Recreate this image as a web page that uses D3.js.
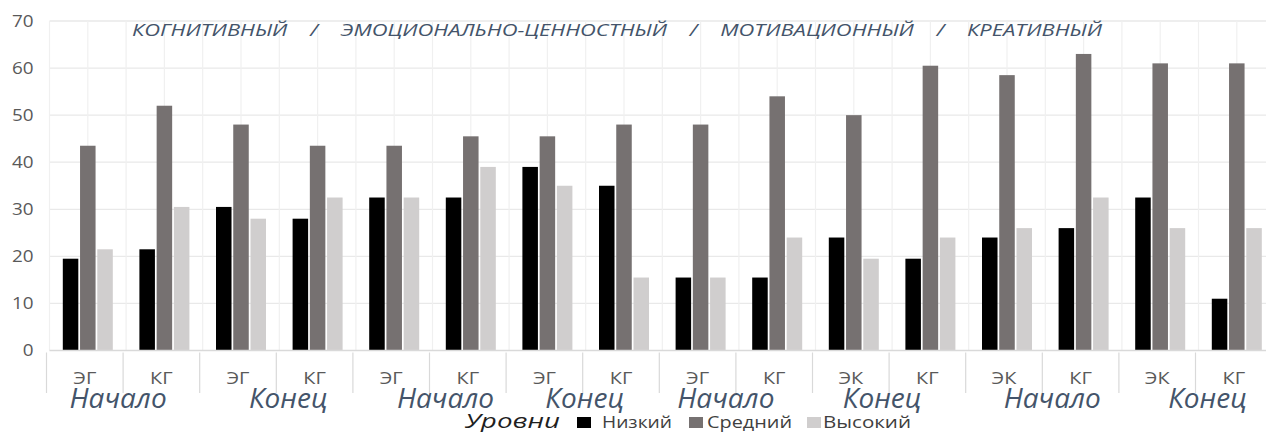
<!DOCTYPE html>
<html><head><meta charset="utf-8">
<script src="https://cdn.jsdelivr.net/npm/d3@7"></script>
<style>html,body{margin:0;padding:0;background:#fff;overflow:hidden}</style>
</head><body><svg id="chart" width="1266" height="432"></svg>
<script>
// ---- data ----
const groups = ["ЭГ","КГ","ЭГ","КГ","ЭГ","КГ","ЭГ","КГ","ЭГ","КГ","ЭК","КГ","ЭК","КГ","ЭК","КГ"];
const phases = ["Начало","Конец","Начало","Конец","Начало","Конец","Начало","Конец"];
const seriesNames = ["Низкий","Средний","Высокий"];
const low    = [19.5,21.5,30.5,28,32.5,32.5,39,35,15.5,15.5,24,19.5,24,26,32.5,11];
const medium = [43.5,52,48,43.5,43.5,45.5,45.5,48,48,54,50,60.5,58.5,63,61,61];
const high   = [21.5,30.5,28,32.5,32.5,39,35,15.5,15.5,24,19.5,24,26,32.5,26,26];
const yTicks = [0,10,20,30,40,50,60,70];
const titleText = "КОГНИТИВНЫЙ    /    ЭМОЦИОНАЛЬНО-ЦЕННОСТНЫЙ    /    МОТИВАЦИОННЫЙ    /    КРЕАТИВНЫЙ";
const legendTitle = "Уровни";

// ---- layout ----
const colors = ["#000000","#767171","#d0cece"];
const phaseOffsets = [-8,9,13,-1,-13,-10,7,9];
const FONT = "Open Sans, sans-serif";
const svg = d3.select("#chart");
const plotLeft = 49.5, step = 76.6;
const x0 = d3.scaleBand().domain(d3.range(groups.length)).range([plotLeft, plotLeft + step*groups.length]).padding(0);
const y = d3.scaleLinear().domain([0,70]).range([350.5,21]);
const x1 = d3.scaleBand().domain(seriesNames).range([0,50]).paddingInner(0.1).paddingOuter(0);
const values = [low, medium, high];

// gridlines
const g = svg.append("g");
g.selectAll(".hg").data(yTicks.filter(t=>t>0)).join("line")
  .attr("x1", plotLeft).attr("x2", 1266).attr("y1", d=>y(d)).attr("y2", d=>y(d))
  .attr("stroke", "#e9e9e9").attr("stroke-width", 1.3);
const vg = [];
groups.forEach((_,i)=>{ vg.push(x0(i)); vg.push(x0(i)+x0.bandwidth()/2); });
g.selectAll(".vg").data(vg).join("line")
  .attr("x1", d=>d).attr("x2", d=>d).attr("y1", y(70)).attr("y2", y(0))
  .attr("stroke", "#f0f0f0").attr("stroke-width", 1.2);

// y axis labels
const yAxis = d3.axisLeft(y).tickValues(yTicks).tickSize(0).tickPadding(0);
const ya = svg.append("g").attr("class","yaxis").call(yAxis);
ya.select(".domain").remove();
ya.selectAll(".tick").attr("transform", d=>`translate(33.5,${y(d)}) scale(1.18,1)`);
ya.selectAll("text").attr("font-family",FONT).attr("font-size",16)
  .attr("fill","#595959").attr("x",0).attr("dy","0.36em").attr("text-anchor","end");

// bars
const bg = svg.append("g");
groups.forEach((_,i)=>{
  const cx = x0(i) + x0.bandwidth()/2 - 25;
  bg.selectAll(null).data(seriesNames.map((s,k)=>({s, v: values[k][i], k}))).join("rect")
    .attr("x", d=>cx + x1(d.s)).attr("width", x1.bandwidth())
    .attr("y", d=>y(d.v)).attr("height", d=>y(0)-y(d.v))
    .attr("fill", d=>colors[d.k]);
});

// baseline
svg.append("line").attr("x1",plotLeft).attr("x2",1266).attr("y1",y(0)).attr("y2",y(0))
  .attr("stroke","#d9d9d9").attr("stroke-width",1.3);

// x axis (groups)
const xAxis = d3.axisBottom(x0).tickFormat(i=>groups[i]).tickSize(0).tickPadding(0);
const xa = svg.append("g").attr("class","xaxis").call(xAxis);
xa.select(".domain").remove();
xa.selectAll(".tick").attr("transform", i=>`translate(${x0(i)+x0.bandwidth()/2-3},383.5) scale(1.25,1)`);
xa.selectAll("text").attr("font-family",FONT).attr("font-size",16)
  .attr("fill","#595959").attr("y",0).attr("dy","0");
// category dividers
svg.selectAll(".div").data(d3.range(groups.length+1)).join("line")
  .attr("x1", i=>plotLeft + i*step - 3).attr("x2", i=>plotLeft + i*step - 3)
  .attr("y1", y(0)+2).attr("y2", 393).attr("stroke","#d9d9d9").attr("stroke-width",1.2);

// phase labels
svg.selectAll(".ph").data(phases).join("text")
  .attr("x", (d,i)=>x0(2*i) + x0.bandwidth() + phaseOffsets[i])
  .attr("y", 408).attr("text-anchor","middle")
  .attr("font-family",FONT).attr("font-style","italic").attr("font-size",28)
  .attr("fill","#44546a").text(d=>d);

// title
svg.append("text").attr("x",132).attr("y",36).attr("xml:space","preserve")
  .attr("textLength",970).attr("lengthAdjust","spacingAndGlyphs")
  .attr("font-family",FONT).attr("font-style","italic").attr("font-size",16)
  .attr("fill","#44546a").style("white-space","pre").text(titleText);

// legend
const lg = svg.append("g");
lg.append("text").attr("x",465).attr("y",428).attr("font-family",FONT)
  .attr("textLength",95).attr("lengthAdjust","spacingAndGlyphs")
  .attr("font-style","italic").attr("font-size",20).attr("fill","#1f1f1f").text(legendTitle);
const legSq = [577, 689, 807];
const legTx = [602, 707, 823];
const legW = [70, 85, 88];
seriesNames.forEach((s,k)=>{
  lg.append("rect").attr("x",legSq[k]).attr("y",417).attr("width",14).attr("height",11).attr("fill",colors[k]);
  lg.append("text").attr("x",legTx[k]).attr("y",428).attr("font-family",FONT)
    .attr("textLength",legW[k]).attr("lengthAdjust","spacingAndGlyphs")
    .attr("font-size",16).attr("fill","#404040").text(s);
});
</script>
</body></html>
